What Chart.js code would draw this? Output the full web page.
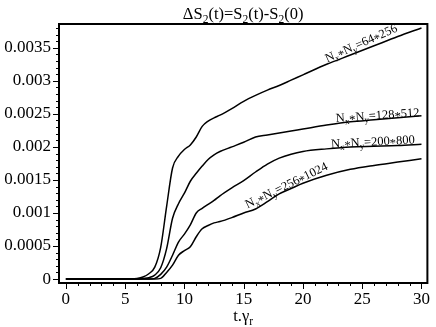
<!DOCTYPE html>
<html>
<head>
<meta charset="utf-8">
<script src="https://cdn.jsdelivr.net/npm/chart.js@4.4.1/dist/chart.umd.min.js"></script>
<style>
  html, body { margin: 0; padding: 0; background: #fff; }
  #wrap { width: 436px; height: 327px; }
</style>
</head>
<body>
<div id="wrap"><canvas id="entropyChart"></canvas></div>
<script>
// time axis (t.gamma_r) shared by all four runs
const times = [0, 5, 6, 6.5, 7, 7.5, 8, 8.5, 9, 9.5, 10, 10.5, 11, 11.5, 12, 12.5, 13, 14, 15, 16, 17, 18, 19, 20, 22, 24, 26, 28, 30];

// Delta S2(t) for each grid size
const dS_64x256   = [0, 0, 0.00001, 0.00003, 0.00008, 0.00018, 0.00048, 0.0011, 0.00168, 0.00186, 0.00196, 0.00203, 0.00215, 0.00231, 0.00239, 0.00244, 0.00248, 0.00258, 0.00269, 0.00278, 0.00286, 0.00293, 0.00301, 0.00309, 0.00325, 0.00339, 0.00353, 0.00367, 0.0038];
const dS_128x512  = [0, 0, 0, 0.00001, 0.00002, 0.00006, 0.00017, 0.00046, 0.00092, 0.00114, 0.0013, 0.00148, 0.0016, 0.00171, 0.00181, 0.00188, 0.00193, 0.002, 0.00207, 0.00215, 0.00218, 0.00221, 0.00224, 0.00227, 0.00233, 0.00238, 0.00241, 0.00244, 0.00247];
const dS_200x800  = [0, 0, 0, 0, 0, 0.00001, 0.00007, 0.00018, 0.00036, 0.00056, 0.00068, 0.00082, 0.001, 0.00107, 0.00113, 0.00119, 0.00126, 0.00138, 0.00149, 0.00162, 0.00174, 0.00183, 0.00189, 0.00193, 0.00197, 0.002, 0.00201, 0.00202, 0.00204];
const dS_256x1024 = [0, 0, 0, 0, 0, 0, 0.00001, 0.0001, 0.00021, 0.00036, 0.00043, 0.00049, 0.00064, 0.00076, 0.00081, 0.00085, 0.00087, 0.00093, 0.001, 0.00106, 0.00117, 0.00129, 0.00137, 0.00145, 0.00157, 0.00166, 0.00172, 0.00177, 0.00182];

const seriesNames = ['N_x*N_y=64*256', 'N_x*N_y=128*512', 'N_x*N_y=200*800', 'N_x*N_y=256*1024'];
const xTicks = [0, 5, 10, 15, 20, 25, 30];
const yTicks = [0, 0.0005, 0.001, 0.0015, 0.002, 0.0025, 0.003, 0.0035];

const titleText = 'ΔS_2(t)=S_2(t)-S_2(0)';
const xAxisText = 't.γ_r';

// where each curve label sits (data coords) and its tilt in degrees
const labelSpots = [
  { t: 24.9, v: 0.00357, angle: -24 },
  { t: 26.3, v: 0.00248, angle: -4 },
  { t: 25.9, v: 0.00208, angle: -3 },
  { t: 18.6, v: 0.00142, angle: -26 }
];

const serif = "'Liberation Serif', 'Times New Roman', serif";

function toPoints(ys) {
  return times.map((t, i) => ({ x: t, y: ys[i] }));
}

// draws text where "_c" makes c a subscript, centred on x; '*' is lowered to mid height
function drawSubText(ctx, str, x, y, size) {
  const parts = [];
  for (let i = 0; i < str.length; i++) {
    if (str[i] === '_' && i + 1 < str.length) {
      parts.push({ s: str[i + 1], sub: true });
      i++;
    } else {
      parts.push({ s: str[i], sub: false });
    }
  }
  let w = 0;
  parts.forEach(p => {
    ctx.font = (p.sub ? size * 0.7 : size) + 'px ' + serif;
    p.w = ctx.measureText(p.s).width;
    w += p.w;
  });
  let cx = x - w / 2;
  ctx.textAlign = 'left';
  ctx.textBaseline = 'alphabetic';
  parts.forEach(p => {
    ctx.font = (p.sub ? size * 0.7 : size) + 'px ' + serif;
    let dy = 0;
    if (p.sub) dy = size * 0.22;
    else if (p.s === '*') dy = size * 0.2;
    ctx.fillText(p.s, cx, y + dy);
    cx += p.w;
  });
}

const decorPlugin = {
  id: 'decor',
  afterDraw(chart) {
    const ctx = chart.ctx;
    const area = chart.chartArea;
    const xs = chart.scales.x;
    const ys = chart.scales.y;
    ctx.save();
    ctx.fillStyle = '#000';
    ctx.strokeStyle = '#000';

    // frame
    ctx.lineWidth = 2;
    ctx.strokeRect(area.left, area.top, area.right - area.left, area.bottom - area.top);

    // ticks, major and minor
    ctx.lineWidth = 1;
    ctx.beginPath();
    for (let t = 0; t <= 30; t++) {
      const px = Math.round(xs.getPixelForValue(t)) + 0.5;
      const len = t % 5 === 0 ? 6 : 3;
      ctx.moveTo(px, area.bottom);
      ctx.lineTo(px, area.bottom + len);
    }
    for (let k = 0; k <= 38; k++) {
      const py = Math.round(ys.getPixelForValue(k * 0.0001)) + 0.5;
      const len = k % 5 === 0 ? 6 : 3;
      ctx.moveTo(area.left, py);
      ctx.lineTo(area.left - len, py);
    }
    ctx.stroke();

    // title and x axis name
    const mid = (area.left + area.right) / 2;
    drawSubText(ctx, titleText, mid, 19, 16.5);
    drawSubText(ctx, xAxisText, mid, 321, 16.5);

    // curve labels
    labelSpots.forEach((spot, i) => {
      ctx.save();
      ctx.translate(xs.getPixelForValue(spot.t), ys.getPixelForValue(spot.v));
      ctx.rotate(spot.angle * Math.PI / 180);
      drawSubText(ctx, seriesNames[i], 0, 4, 12.5);
      ctx.restore();
    });
    ctx.restore();
  }
};

const lineStyle = {
  borderColor: '#000',
  borderWidth: 1.5,
  pointRadius: 0,
  fill: false,
  cubicInterpolationMode: 'monotone'
};

const ctx = document.getElementById('entropyChart').getContext('2d');
const entropyChart = new Chart(ctx, {
  type: 'line',
  data: {
    datasets: [
      Object.assign({ label: seriesNames[0], data: toPoints(dS_64x256) }, lineStyle),
      Object.assign({ label: seriesNames[1], data: toPoints(dS_128x512) }, lineStyle),
      Object.assign({ label: seriesNames[2], data: toPoints(dS_200x800) }, lineStyle),
      Object.assign({ label: seriesNames[3], data: toPoints(dS_256x1024) }, lineStyle)
    ]
  },
  options: {
    animation: false,
    responsive: true,
    maintainAspectRatio: false,
    layout: { padding: { top: 24, right: 2, left: 0, bottom: 0 } },
    plugins: {
      legend: { display: false },
      tooltip: { enabled: false },
      title: { display: false }
    },
    scales: {
      x: {
        type: 'linear',
        min: -0.58,
        max: 30.5,
        afterBuildTicks: s => { s.ticks = xTicks.map(v => ({ value: v })); },
        afterFit: s => { s.height = 44; },
        grid: { display: false, drawTicks: false },
        border: { display: false },
        ticks: {
          color: '#000',
          font: { family: serif, size: 17 },
          padding: 6,
          maxRotation: 0,
          autoSkip: false
        }
      },
      y: {
        type: 'linear',
        min: -0.00006,
        max: 0.00386,
        afterBuildTicks: s => { s.ticks = yTicks.map(v => ({ value: v })); },
        afterFit: s => { s.width = 59; },
        grid: { display: false, drawTicks: false },
        border: { display: false },
        ticks: {
          color: '#000',
          font: { family: serif, size: 17 },
          padding: 8,
          autoSkip: false,
          callback: v => String(+v.toFixed(4))
        }
      }
    }
  },
  plugins: [decorPlugin]
});
</script>
</body>
</html>
